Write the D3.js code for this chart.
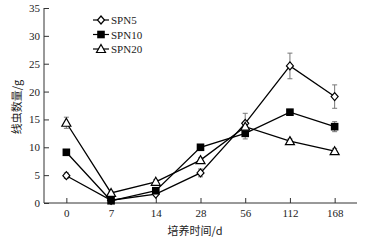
<!DOCTYPE html>
<html>
<head>
<meta charset="utf-8">
<script src="https://cdn.jsdelivr.net/npm/d3@7"></script>
<style>
  body { margin: 0; background: #fff; }
  text { font-family: "Liberation Serif", "Times New Roman", serif; }
</style>
</head>
<body>
<svg id="fig" width="368" height="241"></svg>
<script>
var days = ["0", "7", "14", "28", "56", "112", "168"];
var yTicks = [0, 5, 10, 15, 20, 25, 30, 35];
var seriesNames = ["SPN5", "SPN10", "SPN20"];
var spn5 = [4.9, 0.5, 1.6, 5.4, 14.3, 24.6, 19.1];
var spn5Err = [0.5, 0.2, 0.3, 0.7, 1.8, 2.3, 2.1];
var spn10 = [9.1, 0.4, 2.2, 10.0, 12.5, 16.3, 13.7];
var spn10Err = [0.3, 0.2, 0.3, 0.4, 1.0, 0.5, 0.9];
var spn20 = [14.4, 1.8, 3.8, 7.7, 13.7, 11.1, 9.3];
var spn20Err = [1.0, 0.3, 0.4, 0.4, 0.8, 0.4, 0.5];

var svg = d3.select("#fig");
const margin = { left: 44, top: 8, right: 11, bottom: 38 };
const width = 368, height = 241;

const xSc = d3.scalePoint().domain(days)
              .range([margin.left, width - margin.right]).padding(0.5);
const ySc = d3.scaleLinear().domain([0, 35])
              .range([height - margin.bottom, margin.top]);

// axes, ticks point inward
var xg = svg.append("g").attr("transform", `translate(0,${height - margin.bottom})`)
            .call(d3.axisBottom(xSc).tickSizeInner(-5).tickSizeOuter(0).tickPadding(6));
var yg = svg.append("g").attr("transform", `translate(${margin.left},0)`)
            .call(d3.axisLeft(ySc).tickValues(yTicks).tickSizeInner(-5).tickSizeOuter(0).tickPadding(4));
[xg, yg].forEach(g => {
  g.selectAll("text").attr("font-size", 11).attr("font-family", "Liberation Serif").attr("fill", "#222");
  g.selectAll("line, path").attr("stroke", "#333");
});
xg.select(".domain").attr("d", `M${margin.left},0H${width - margin.right}`);
yg.select(".domain").attr("d", `M0,${height - margin.bottom}V${margin.top}`);

svg.append("text").attr("x", 195).attr("y", 235).attr("text-anchor", "middle")
   .attr("font-size", 11).style("font-family", "'Noto Sans CJK SC', sans-serif").attr("fill", "#222")
   .text("培养时间/d");
svg.append("text").attr("transform", "translate(21,107) rotate(-90)").attr("text-anchor", "middle")
   .attr("font-size", 11).style("font-family", "'Noto Sans CJK SC', sans-serif").attr("fill", "#222")
   .text("线虫数量/g");

var series = [
  { name: seriesNames[0], vals: spn5, err: spn5Err, shape: "diamond" },
  { name: seriesNames[1], vals: spn10, err: spn10Err, shape: "square" },
  { name: seriesNames[2], vals: spn20, err: spn20Err, shape: "triangle" }
];

function marker(g, shape, x, y) {
  if (shape === "diamond") {
    g.append("path").attr("d", `M${x},${y-4}L${x+3.5},${y}L${x},${y+4}L${x-3.5},${y}Z`)
     .attr("fill", "#fff").attr("stroke", "#000").attr("stroke-width", 1.2);
  } else if (shape === "square") {
    g.append("rect").attr("x", x - 3.8).attr("y", y - 3.8).attr("width", 7.6).attr("height", 7.6)
     .attr("fill", "#000");
  } else {
    g.append("path").attr("d", `M${x},${y-4.5}L${x+4.5},${y+3.5}L${x-4.5},${y+3.5}Z`)
     .attr("fill", "#fff").attr("stroke", "#000").attr("stroke-width", 1.2);
  }
}

var line = d3.line().x((d, i) => xSc(days[i])).y(d => ySc(d));

series.forEach(s => {
  var g = svg.append("g");
  // error bars
  s.vals.forEach((v, i) => {
    var x = xSc(days[i]);
    var y1 = ySc(v + s.err[i]), y0 = ySc(v - s.err[i]);
    g.append("path").attr("d", `M${x},${y0}V${y1}M${x-2.5},${y1}H${x+2.5}M${x-2.5},${y0}H${x+2.5}`)
     .attr("stroke", "#777").attr("stroke-width", 1).attr("fill", "none");
  });
  g.append("path").attr("d", line(s.vals)).attr("fill", "none")
   .attr("stroke", "#000").attr("stroke-width", 1.3);
});
series.forEach(s => {
  var g = svg.append("g");
  s.vals.forEach((v, i) => marker(g, s.shape, xSc(days[i]), ySc(v)));
});

// legend
var legY = [20, 34.5, 49];
series.forEach((s, i) => {
  var g = svg.append("g");
  g.append("line").attr("x1", 93).attr("x2", 109).attr("y1", legY[i]).attr("y2", legY[i])
   .attr("stroke", "#000").attr("stroke-width", 1.2);
  marker(g, s.shape, 101, legY[i]);
  g.append("text").attr("x", 111).attr("y", legY[i] + 4).attr("font-size", 11)
   .attr("fill", "#222").text(s.name);
});
</script>
</body>
</html>
